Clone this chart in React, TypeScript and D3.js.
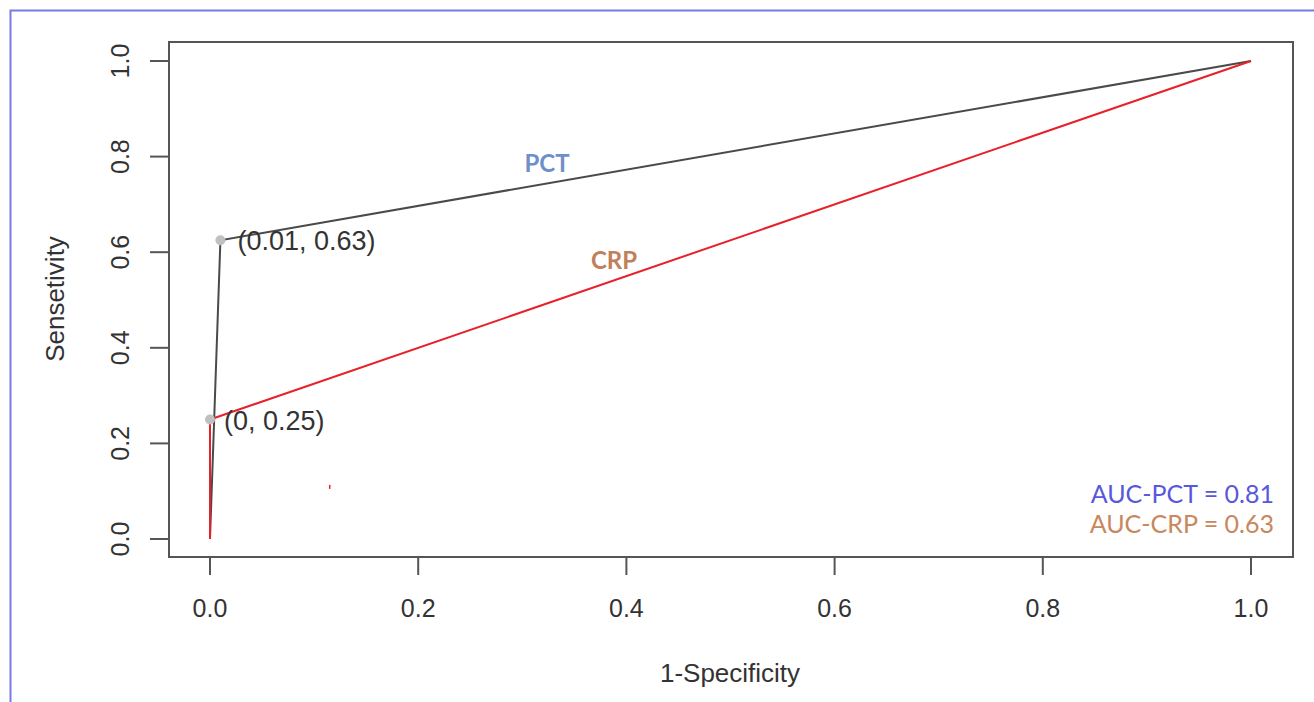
import React from "react";
import * as d3 from "d3";

// ROC curves for two markers
const pctFpr = [0, 0.01, 1];
const pctTpr = [0, 0.625, 1];
const crpFpr = [0, 0, 1];
const crpTpr = [0, 0.25, 1];
const cutPointsX = [0.01, 0];
const cutPointsY = [0.625, 0.25];
const cutLabels = ["(0.01, 0.63)", "(0, 0.25)"];
const cutLabelShift = [17, 14];
const strayMarkX = [0.115];
const strayMarkY = [0.109];
const ticks = [0, 0.2, 0.4, 0.6, 0.8, 1.0];
const aucLabels = ["AUC-PCT = 0.81", "AUC-CRP = 0.63"];

const W = 1314;
const H = 702;

export default function App() {
  const x = d3.scaleLinear().domain([0, 1]).range([210, 1251]);
  const y = d3.scaleLinear().domain([0, 1]).range([539, 61]);
  const line = d3
    .line<[number, number]>()
    .x((d) => x(d[0]))
    .y((d) => y(d[1]));
  const pct = pctFpr.map((v, i) => [v, pctTpr[i]] as [number, number]);
  const crp = crpFpr.map((v, i) => [v, crpTpr[i]] as [number, number]);
  const box = { l: 169, t: 42, r: 1293, b: 557 };
  const axisFont = "'Liberation Sans', Arial, sans-serif";
  const noteFont = "Lato, 'Open Sans', sans-serif";

  return (
    <svg
      width={W}
      height={H}
      style={{ position: "absolute", left: 0, top: 0, background: "#fff" }}
    >
      <rect x={10.5} y={10.5} width={W + 20} height={H + 20} fill="none" stroke="#7a7ae6" strokeWidth={2} />
      {/* plot frame */}
      <rect x={box.l} y={box.t} width={box.r - box.l} height={box.b - box.t} fill="none" stroke="#555" strokeWidth={2} />

      {/* y axis */}
      {ticks.map((t) => (
        <g key={"y" + t}>
          <line x1={150} x2={box.l} y1={y(t)} y2={y(t)} stroke="#555" strokeWidth={2} />
          <text
            transform={`translate(${129},${y(t)}) rotate(-90)`}
            textAnchor="middle"
            fontFamily={axisFont}
            fontSize={25}
            fill="#333"
          >
            {t.toFixed(1)}
          </text>
        </g>
      ))}
      {/* x axis */}
      {ticks.map((t) => (
        <g key={"x" + t}>
          <line x1={x(t)} x2={x(t)} y1={box.b} y2={575} stroke="#555" strokeWidth={2} />
          <text x={x(t)} y={617} textAnchor="middle" fontFamily={axisFont} fontSize={25} fill="#333">
            {t.toFixed(1)}
          </text>
        </g>
      ))}
      <text x={730} y={682} textAnchor="middle" fontFamily={axisFont} fontSize={26} fill="#333">
        1-Specificity
      </text>
      <text
        transform="translate(64,299) rotate(-90)"
        textAnchor="middle"
        fontFamily={axisFont}
        fontSize={26}
        fill="#333"
      >
        Sensetivity
      </text>

      {/* curves */}
      <path d={line(pct) ?? ""} fill="none" stroke="#4a4a4a" strokeWidth={2} />
      <path d={line(crp) ?? ""} fill="none" stroke="#e8202a" strokeWidth={2} />
      {strayMarkX.map((v, i) => (
        <line key={"s" + i} x1={x(v)} x2={x(v)} y1={y(strayMarkY[i]) - 2} y2={y(strayMarkY[i]) + 2} stroke="#e8202a" strokeWidth={1.5} />
      ))}

      {/* cut points */}
      {cutPointsX.map((v, i) => (
        <g key={"c" + i}>
          <circle cx={x(v)} cy={y(cutPointsY[i])} r={5} fill="#c0c0c0" />
          <text
            x={x(v) + cutLabelShift[i]}
            y={y(cutPointsY[i]) + 10}
            fontFamily={axisFont}
            fontSize={27}
            fill="#333"
          >
            {cutLabels[i]}
          </text>
        </g>
      ))}

      {/* curve names */}
      <text x={547} y={172} textAnchor="middle" fontFamily={noteFont} fontWeight="bold" fontSize={24} fill="#6f8fc8">
        PCT
      </text>
      <text x={614} y={269} textAnchor="middle" fontFamily={noteFont} fontWeight="bold" fontSize={24} fill="#c08058">
        CRP
      </text>

      {/* AUC legend */}
      <text x={1274} y={503} textAnchor="end" fontFamily={noteFont} fontSize={25} fill="#5858dc">
        {aucLabels[0]}
      </text>
      <text x={1274} y={533} textAnchor="end" fontFamily={noteFont} fontSize={25} fill="#c8875c">
        {aucLabels[1]}
      </text>
    </svg>
  );
}
